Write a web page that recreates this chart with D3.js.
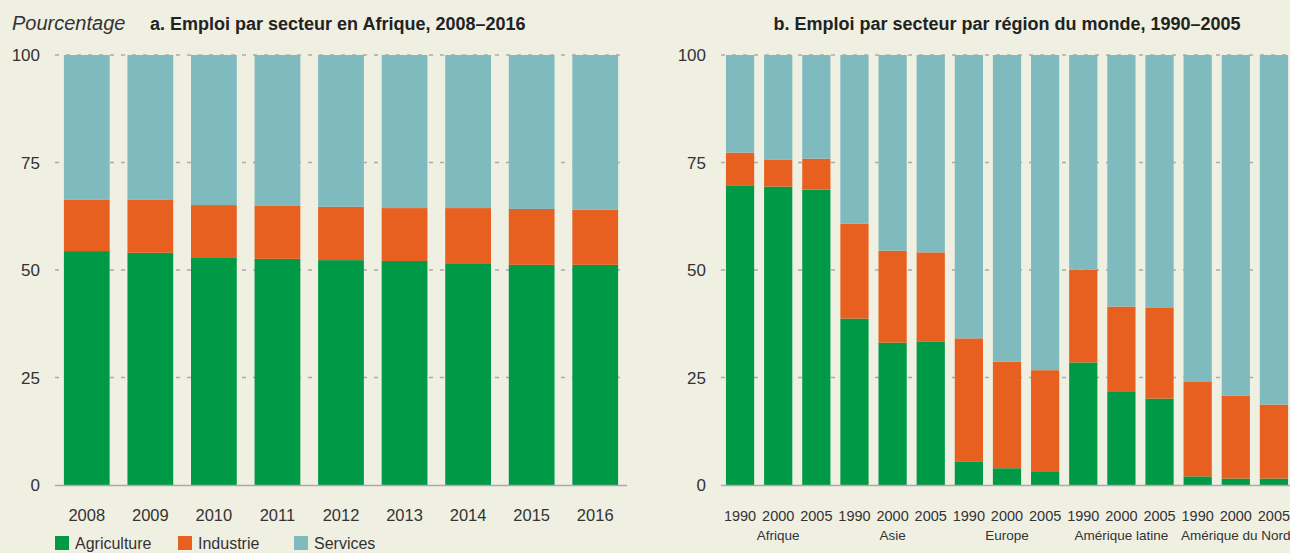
<!DOCTYPE html>
<html>
<head>
<meta charset="utf-8">
<script src="https://cdn.jsdelivr.net/npm/d3@7"></script>
<style>
  body { margin: 0; background: #efefe2; }
  svg { display: block; font-family: "Liberation Sans", Arial, sans-serif; }
</style>
</head>
<body>
<svg id="chart" width="1290" height="553"></svg>
<script>
// panel a: Africa 2008-2016
const yearsA = ["2008", "2009", "2010", "2011", "2012", "2013", "2014", "2015", "2016"];
const agriA = [54.4, 54.0, 52.8, 52.6, 52.3, 52.1, 51.4, 51.2, 51.2];
const indA = [11.9, 12.3, 12.3, 12.3, 12.4, 12.3, 13.0, 13.0, 12.8];

// panel b: world regions 1990-2005
const regions = ["Afrique", "Asie", "Europe", "Amérique latine", "Amérique du Nord"];
const yearsB = ["1990", "2000", "2005"];
const agriB = [69.7, 69.4, 68.7, 38.7, 33.1, 33.4, 5.5, 3.9, 3.2, 28.5, 21.8, 20.1, 2.0, 1.5, 1.5];
const indB = [7.6, 6.3, 7.2, 22.1, 21.4, 20.7, 28.6, 24.8, 23.5, 21.6, 19.7, 21.2, 22.1, 19.3, 17.2];

const sectors = ["Agriculture", "Industrie", "Services"];
const colors = ["#009946", "#e8601f", "#7fbabe"];
const yTicks = [0, 25, 50, 75, 100];

const svg = d3.select("#chart");
const plotTop = 55, plotBottom = 485;

function stackRows(agri, ind) {
    return agri.map((a, i) => ({ a: a, i: ind[i], s: 100 - a - ind[i], idx: i }));
}

function drawPanel(keys, agri, ind, x0, x1, labelX, pad) {
    let g = svg.append("g");
    let x = d3.scaleBand().domain(keys).range([x0, x1]).paddingInner(pad).paddingOuter(pad / 2);
    let y = d3.scaleLinear().domain([0, 100]).range([plotBottom, plotTop]);

    // grid
    g.selectAll("line.grid")
        .data(yTicks.filter(t => t > 0))
        .join("line")
        .attr("x1", x0).attr("x2", Math.min(x1, 1290))
        .attr("y1", d => y(d)).attr("y2", d => y(d))
        .style("stroke", "#aaaaaa")
        .style("stroke-width", 1.3)
        .style("stroke-dasharray", "4,7");

    g.selectAll("text.ytick")
        .data(yTicks)
        .join("text")
        .attr("x", labelX)
        .attr("y", d => y(d) + 6)
        .attr("text-anchor", "end")
        .style("font-size", "17px")
        .style("fill", "#333")
        .text(d => d);

    let rows = stackRows(agri, ind);
    let stack = d3.stack().keys(["a", "i", "s"])(rows);

    g.selectAll("g.layer")
        .data(stack)
        .join("g")
        .style("fill", (d, i) => colors[i])
        .selectAll("rect")
        .data(d => d)
        .join("rect")
        .attr("x", d => x(keys[d.data.idx]))
        .attr("width", x.bandwidth())
        .attr("y", d => y(d[1]))
        .attr("height", d => y(d[0]) - y(d[1]));

    g.append("line")
        .attr("x1", x0).attr("x2", Math.min(x1, 1290))
        .attr("y1", y(0) + 0.5).attr("y2", y(0) + 0.5)
        .style("stroke", "#aaaaaa")
        .style("stroke-width", 1.5);

    return x;
}

// panel a
let keysA = yearsA;
let xA = drawPanel(keysA, agriA, indA, 55, 627, 40, 0.28);
svg.selectAll("text.xa")
    .data(yearsA)
    .join("text")
    .attr("x", d => xA(d) + xA.bandwidth() / 2)
    .attr("y", 521)
    .attr("text-anchor", "middle")
    .style("font-size", "16.5px")
    .style("fill", "#333")
    .text(d => d);

// panel b
let keysB = [];
regions.forEach(r => yearsB.forEach(yr => keysB.push(r + "|" + yr)));
let xB = drawPanel(keysB, agriB, indB, 721, 1293, 706, 0.26);
svg.selectAll("text.xb")
    .data(keysB)
    .join("text")
    .attr("x", d => xB(d) + xB.bandwidth() / 2)
    .attr("y", 521)
    .attr("text-anchor", "middle")
    .style("font-size", "14.5px")
    .style("fill", "#333")
    .text(d => d.split("|")[1]);
svg.selectAll("text.region")
    .data(regions)
    .join("text")
    .attr("x", r => xB(r + "|2000") + xB.bandwidth() / 2)
    .attr("y", 540)
    .attr("text-anchor", "middle")
    .style("font-size", "13.5px")
    .style("fill", "#333")
    .text(r => r);

// titles
svg.append("text")
    .attr("x", 12).attr("y", 30)
    .style("font-size", "20px")
    .style("font-style", "italic")
    .style("fill", "#333")
    .text("Pourcentage");
svg.append("text")
    .attr("x", 150).attr("y", 30)
    .style("font-size", "18px")
    .style("font-weight", "bold")
    .style("fill", "#222")
    .text("a. Emploi par secteur en Afrique, 2008–2016");
svg.append("text")
    .attr("x", 1007).attr("y", 30)
    .attr("text-anchor", "middle")
    .style("font-size", "18px")
    .style("font-weight", "bold")
    .style("fill", "#222")
    .text("b. Emploi par secteur par région du monde, 1990–2005");

// legend
let legX = [55, 178, 294];
let leg = svg.selectAll("g.leg")
    .data(sectors)
    .join("g")
    .attr("transform", (d, i) => "translate(" + legX[i] + ",536)");
leg.append("rect")
    .attr("width", 14).attr("height", 14)
    .style("fill", (d, i) => colors[i]);
leg.append("text")
    .attr("x", 20).attr("y", 13)
    .style("font-size", "16px")
    .style("fill", "#333")
    .text(d => d);
</script>
</body>
</html>
